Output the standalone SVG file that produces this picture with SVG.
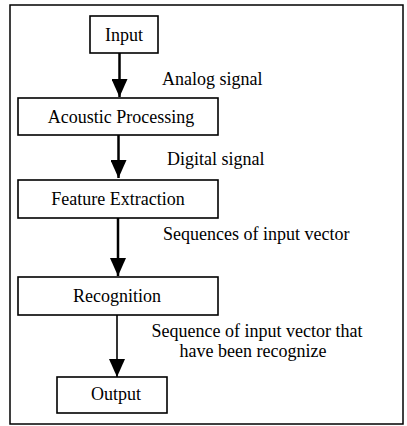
<svg xmlns="http://www.w3.org/2000/svg" width="407" height="426" viewBox="0 0 407 426">
<style>
.box{fill:#fff;stroke:#000;stroke-width:1.6}
.t{font-family:'Liberation Serif','Tinos','DejaVu Serif',serif;font-size:18px;fill:#000}
.c{text-anchor:middle}
.ln{stroke:#000;fill:none}
</style>
<defs>
<marker id="ah" markerUnits="userSpaceOnUse" markerWidth="18" markerHeight="16" refX="18" refY="8" orient="auto" viewBox="0 0 18 16">
<path d="M0,0 L18,8 L0,16 Z" fill="#000"/>
</marker>
</defs>
<rect x="10" y="5" width="393" height="419" fill="#fff" stroke="#000" stroke-width="1.5"/>
<g id="connectors">
<line class="ln" x1="119.5" y1="53" x2="119.5" y2="97" stroke-width="2.5" marker-end="url(#ah)"/>
<line class="ln" x1="118.5" y1="135" x2="118.5" y2="178" stroke-width="2.5" marker-end="url(#ah)"/>
<line class="ln" x1="118" y1="218" x2="118" y2="276" stroke-width="2.5" marker-end="url(#ah)"/>
<line class="ln" x1="117" y1="315" x2="117" y2="377" stroke-width="1.6" marker-end="url(#ah)"/>
<text class="t" x="162" y="85">Analog signal</text>
<text class="t" x="167" y="165">Digital signal</text>
<text class="t" x="163" y="240">Sequences of input vector</text>
<text class="t c" x="257" y="337">Sequence of input vector that</text>
<text class="t c" x="253" y="357">have been recognize</text>
</g>
<g id="input"><rect class="box" x="90" y="16" width="68" height="37"/><text class="t c" x="124" y="41">Input</text></g>
<g id="acoustic"><rect class="box" x="18" y="98" width="200" height="37"/><text class="t c" x="121" y="123">Acoustic Processing</text></g>
<g id="feature"><rect class="box" x="18" y="180" width="200" height="38"/><text class="t c" x="118" y="205">Feature Extraction</text></g>
<g id="recognition"><rect class="box" x="18" y="277" width="200" height="38"/><text class="t c" x="117" y="302">Recognition</text></g>
<g id="output"><rect class="box" x="57" y="377" width="110" height="36"/><text class="t c" x="116" y="400">Output</text></g>
</svg>
